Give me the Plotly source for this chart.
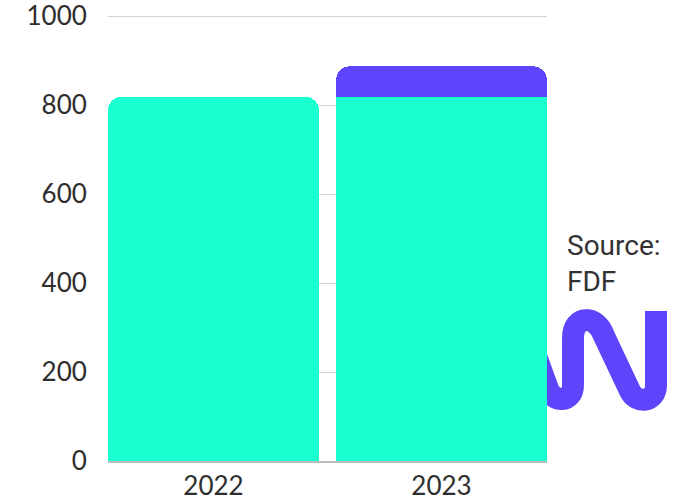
import plotly.graph_objects as go

# ---- data ----
years = ["2022", "2023"]
base_values = [819, 819]          # teal part
increase_years = ["2023"]
increase_values = [68]            # purple increment on top of 2023
change_label = "+7.4%"
y_ticks = [0, 200, 400, 600, 800, 1000]
source_lines = ["Source:", "FDF"]

TEAL = "#1AFFCF"
PURPLE = "#5C45FA"
TEXT = "#2e2e2e"

W, H = 688, 499
L, R, T, B = 108, 141, 14, 38
PW, PH = W - L - R, H - T - B
Y_MAX = 1004.5

def px2paper(x, y):
    return (x - L) / PW, (H - B - y) / PH

fig = go.Figure()
fig.add_trace(go.Bar(x=years, y=base_values, marker=dict(color=TEAL, line=dict(width=0)),
                     hoverinfo="skip"))
fig.add_trace(go.Bar(x=increase_years, y=increase_values,
                     marker=dict(color=PURPLE, line=dict(width=0)), hoverinfo="skip"))

total_2023 = base_values[1] + increase_values[0]
fig.add_annotation(x="2023", y=total_2023, xref="x", yref="y", text=change_label,
                   showarrow=False, yanchor="middle", yshift=21,
                   font=dict(family="Lato", size=26, color=PURPLE))

sx, sy = px2paper(565, 227)
fig.add_annotation(x=sx, y=sy, xref="paper", yref="paper", text="<br>".join(source_lines),
                   showarrow=False, xanchor="left", yanchor="top", align="left",
                   font=dict(family="Roboto", size=28, color="#333333"))

# decorative logo stroke (pixel path converted to paper coords)
pts = [
    ("M", [(656, 311)]),
    ("L", [(656, 385)]),
    ("C", [(656, 403), (636, 404), (630, 391)]),
    ("L", [(604, 336)]),
    ("C", [(597, 315), (573, 314), (573, 338)]),
    ("L", [(573, 385)]),
    ("C", [(573, 403), (553, 403), (548, 389)]),
    ("L", [(532, 345)]),
]
path = ""
for cmd, ps in pts:
    path += cmd + " " + " ".join("%.5f,%.5f" % px2paper(x, y) for x, y in ps) + " "
fig.add_shape(type="path", path=path.strip(), xref="paper", yref="paper",
              line=dict(color=PURPLE, width=22), fillcolor="rgba(0,0,0,0)", layer="below")

bar_w = 0.925
fig.update_layout(
    template="none",
    width=W, height=H,
    margin=dict(l=L, r=R, t=T, b=B, pad=0, autoexpand=False),
    barmode="stack", bargap=1 - bar_w, barcornerradius=14,
    showlegend=False,
    paper_bgcolor="white", plot_bgcolor="rgba(0,0,0,0)",
    font=dict(family="Lato", color=TEXT),
)
fig.update_xaxes(type="category", range=[-bar_w / 2 - 0.0005, 1 + bar_w / 2 + 0.0005],
                 automargin=False, ticklabeloverflow="allow",
                 showgrid=False, showline=True, linecolor="#bdbdbd", linewidth=2,
                 ticks="outside", ticklen=1, tickcolor="rgba(0,0,0,0)",
                 tickfont=dict(family="Lato", size=26, color=TEXT))
fig.update_yaxes(range=[0, Y_MAX], tickvals=y_ticks, automargin=False,
                 ticklabeloverflow="allow",
                 showgrid=True, gridcolor="#d4d4d4",
                 gridwidth=1, zeroline=False, showline=False,
                 ticks="outside", ticklen=15, tickcolor="rgba(0,0,0,0)",
                 tickfont=dict(family="Lato", size=26, color=TEXT))

fig.write_html("out.html", config={"displayModeBar": False},
               post_script="document.body.style.margin='0';")
